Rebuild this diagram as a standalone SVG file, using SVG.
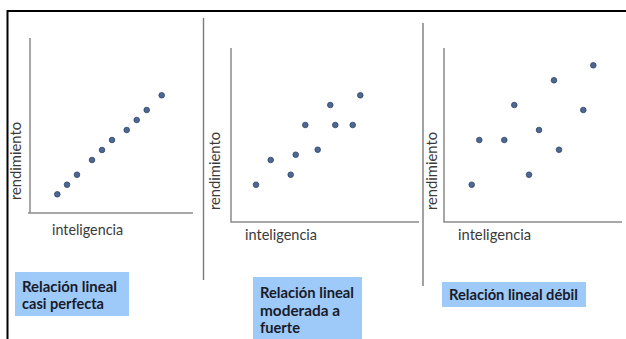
<svg xmlns="http://www.w3.org/2000/svg" width="626" height="339" viewBox="0 0 626 339">
<defs>
<style>
.frame{stroke:#000;stroke-width:2;fill:none}
.div{stroke:#7a7a7a;stroke-width:1.4;fill:none}
.axis{stroke:#8a8a8a;stroke-width:1.5;fill:none}
.dot{fill:#4d6893;stroke:#2e4468;stroke-width:0.8}
.lbl{font-family:Lato,"Open Sans","Liberation Sans",sans-serif;font-size:15px;fill:#3a3a3a}
.box{fill:#9dcaf8}
.bt{font-family:Lato,"Open Sans","Liberation Sans",sans-serif;font-size:14.5px;font-weight:bold;fill:#1a1a2a}
</style>
</defs>
<rect width="626" height="339" fill="#fff"/>
<g id="frame">
<path class="frame" d="M7.5 339 V11 H626"/>
<line class="div" x1="203.5" y1="18" x2="203.5" y2="280"/>
<line class="div" x1="423" y1="23" x2="423" y2="286"/>
</g>
<g id="panel1">
<path class="axis" d="M30 38 V213 M28 213 H193"/>
<text class="lbl" x="52" y="235" textLength="71" lengthAdjust="spacingAndGlyphs">inteligencia</text>
<text class="lbl" transform="translate(21 200) rotate(-90)" textLength="78" lengthAdjust="spacingAndGlyphs">rendimiento</text>
<g>
<circle class="dot" cx="57.3" cy="194.3" r="2.8"/>
<circle class="dot" cx="67" cy="184.7" r="2.8"/>
<circle class="dot" cx="77" cy="174.7" r="2.8"/>
<circle class="dot" cx="92" cy="160" r="2.8"/>
<circle class="dot" cx="102" cy="150" r="2.8"/>
<circle class="dot" cx="112" cy="140" r="2.8"/>
<circle class="dot" cx="126.7" cy="130" r="2.8"/>
<circle class="dot" cx="136.7" cy="120" r="2.8"/>
<circle class="dot" cx="146.7" cy="110" r="2.8"/>
<circle class="dot" cx="161.7" cy="95.3" r="2.8"/>
</g>
</g>
<g id="panel2">
<path class="axis" d="M231 48 V222 H419"/>
<text class="lbl" x="245" y="240" textLength="72" lengthAdjust="spacingAndGlyphs">inteligencia</text>
<text class="lbl" transform="translate(220 210) rotate(-90)" textLength="78" lengthAdjust="spacingAndGlyphs">rendimiento</text>
<g>
<circle class="dot" cx="256" cy="184.7" r="2.8"/>
<circle class="dot" cx="270.7" cy="160" r="2.8"/>
<circle class="dot" cx="290.7" cy="174.7" r="2.8"/>
<circle class="dot" cx="295.7" cy="154.7" r="2.8"/>
<circle class="dot" cx="305.3" cy="125" r="2.8"/>
<circle class="dot" cx="317.7" cy="149.7" r="2.8"/>
<circle class="dot" cx="330.3" cy="105" r="2.8"/>
<circle class="dot" cx="335.3" cy="125" r="2.8"/>
<circle class="dot" cx="352.7" cy="125" r="2.8"/>
<circle class="dot" cx="360.3" cy="95.3" r="2.8"/>
</g>
</g>
<g id="panel3">
<path class="axis" d="M444 48 V222 H622"/>
<text class="lbl" x="458" y="240" textLength="73" lengthAdjust="spacingAndGlyphs">inteligencia</text>
<text class="lbl" transform="translate(437 210) rotate(-90)" textLength="78" lengthAdjust="spacingAndGlyphs">rendimiento</text>
<g>
<circle class="dot" cx="471.7" cy="184.7" r="2.8"/>
<circle class="dot" cx="479.3" cy="140" r="2.8"/>
<circle class="dot" cx="504.3" cy="140" r="2.8"/>
<circle class="dot" cx="514.3" cy="105" r="2.8"/>
<circle class="dot" cx="529" cy="174.7" r="2.8"/>
<circle class="dot" cx="539" cy="130" r="2.8"/>
<circle class="dot" cx="554" cy="80.3" r="2.8"/>
<circle class="dot" cx="559" cy="149.7" r="2.8"/>
<circle class="dot" cx="583.3" cy="110" r="2.8"/>
<circle class="dot" cx="593.3" cy="65.3" r="2.8"/>
</g>
</g>
<g id="label1">
<rect class="box" x="15" y="272" width="114" height="44"/>
<text class="bt" x="22" y="292" textLength="95" lengthAdjust="spacingAndGlyphs">Relación lineal</text>
<text class="bt" x="22" y="309" textLength="82" lengthAdjust="spacingAndGlyphs">casi perfecta</text>
</g>
<g id="label2">
<rect class="box" x="253" y="277" width="109" height="62"/>
<text class="bt" x="260" y="298" textLength="94" lengthAdjust="spacingAndGlyphs">Relación lineal</text>
<text class="bt" x="260" y="316" textLength="80" lengthAdjust="spacingAndGlyphs">moderada a</text>
<text class="bt" x="260" y="333" textLength="40" lengthAdjust="spacingAndGlyphs">fuerte</text>
</g>
<g id="label3">
<rect class="box" x="442" y="282" width="144" height="25"/>
<text class="bt" x="449" y="300" textLength="129" lengthAdjust="spacingAndGlyphs">Relación lineal débil</text>
</g>
</svg>
